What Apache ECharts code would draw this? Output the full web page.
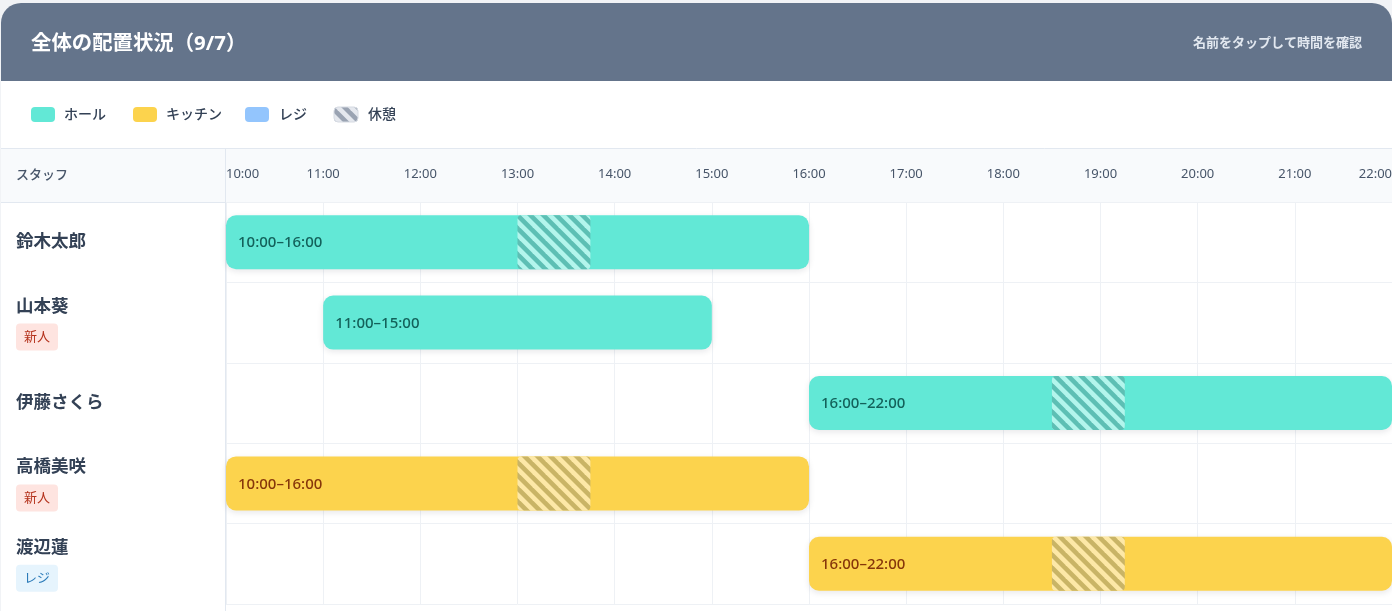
<!DOCTYPE html>
<html><head><meta charset="utf-8">
<script src="https://cdn.jsdelivr.net/npm/echarts@6/dist/echarts.min.js"></script>
<style>html,body{margin:0;padding:0;background:#f1f3f6}#c{width:1392px;height:611px}</style>
</head><body><div id="c"></div>
<script>
// ---- data ----
const staff = ['鈴木太郎', '山本葵', '伊藤さくら', '高橋美咲', '渡辺蓮'];
const badges = ['', '新人', '', '新人', 'レジ'];
const shiftStart = [10, 11, 16, 10, 16];
const shiftEnd = [16, 15, 22, 16, 22];
const shiftRole = ['hall', 'hall', 'hall', 'kitchen', 'kitchen'];
const breakStart = [13, null, 18.5, 13, 18.5];
const breakEnd = [13.75, null, 19.25, 13.75, 19.25];
const timeLabels = ['10:00','11:00','12:00','13:00','14:00','15:00','16:00','17:00','18:00','19:00','20:00','21:00','22:00'];
const legendNames = ['ホール', 'キッチン', 'レジ', '休憩'];
const titleText = '全体の配置状況（9/7）';
const hintText = '名前をタップして時間を確認';

// ---- styles ----
const FONT = "'Noto Sans', 'Noto Sans CJK JP', sans-serif";
const roleColor = { hall: '#62e8d6', kitchen: '#fcd34d', register: '#93c5fd' };
const roleText = { hall: '#13615a', kitchen: '#86360a' };
const stripeColors = {
  hall: ['#b3f5ec', '#5dbfb4'],
  kitchen: ['#fde8a7', '#c9b466'],
  gray: ['#e5e8ee', '#9aa3b2']
};

function makeStripe(light, dark) {
  const P = 13;
  const c = document.createElement('canvas');
  c.width = P; c.height = P;
  const g = c.getContext('2d');
  g.fillStyle = light; g.fillRect(0, 0, P, P);
  g.fillStyle = dark;
  for (let k = -2; k <= 1; k++) {
    g.beginPath();
    g.moveTo(k * P, 0);
    g.lineTo(k * P + P / 2, 0);
    g.lineTo(k * P + P / 2 + P, P);
    g.lineTo(k * P + P, P);
    g.closePath();
    g.fill();
  }
  return { image: c, repeat: 'repeat' };
}
const patterns = {
  hall: makeStripe(...stripeColors.hall),
  kitchen: makeStripe(...stripeColors.kitchen),
  gray: makeStripe(...stripeColors.gray)
};

function fmt(h) {
  const hh = Math.floor(h), mm = Math.round((h - hh) * 60);
  return hh + ':' + String(mm).padStart(2, '0');
}

const shiftData = staff.map((n, i) => [i, shiftStart[i], shiftEnd[i], shiftRole[i]]);
const breakData = [];
staff.forEach((n, i) => { if (breakStart[i] != null) breakData.push([i, breakStart[i], breakEnd[i], shiftRole[i]]); });

const BAR_H = 54;

function renderShift(params, api) {
  const d = shiftData[params.dataIndex];
  const p0 = api.coord([d[1], d[0]]);
  const p1 = api.coord([d[2], d[0]]);
  return {
    type: 'group',
    children: [{
      type: 'rect',
      shape: { x: p0[0], y: p0[1] - BAR_H / 2, width: p1[0] - p0[0], height: BAR_H, r: 10 },
      style: { fill: roleColor[d[3]], shadowBlur: 6, shadowOffsetY: 2, shadowColor: 'rgba(15,23,42,0.10)' }
    }, {
      type: 'text',
      z2: 10,
      style: {
        x: p0[0] + 12, y: p0[1] + 1,
        text: fmt(d[1]) + '–' + fmt(d[2]),
        fill: roleText[d[3]], font: '500 15px ' + FONT,
        verticalAlign: 'middle', align: 'left'
      }
    }]
  };
}

function renderBreak(params, api) {
  const d = breakData[params.dataIndex];
  const p0 = api.coord([d[1], d[0]]);
  const p1 = api.coord([d[2], d[0]]);
  return {
    type: 'rect',
    shape: { x: p0[0], y: p0[1] - BAR_H / 2, width: p1[0] - p0[0], height: BAR_H, r: 4 },
    style: { fill: patterns[d[3]] }
  };
}

// legend positions
const legendX = [31, 133, 245, 334];
const legendTextX = [64, 166, 279, 368];
const legendFill = [roleColor.hall, roleColor.kitchen, roleColor.register, patterns.gray];
const legendGraphics = [];
legendNames.forEach((nm, i) => {
  legendGraphics.push({
    type: 'rect', z: 5,
    shape: { x: legendX[i], y: 107, width: 24, height: 15, r: 4 },
    style: i === 3 ? { fill: legendFill[i], stroke: '#d5dae2', lineWidth: 1 } : { fill: legendFill[i] }
  });
  legendGraphics.push({
    type: 'text', z: 5,
    style: { x: legendTextX[i], y: 115, text: nm, fill: '#334155', font: '500 14px ' + FONT, verticalAlign: 'middle' }
  });
});

const badgeStyle = (fg, bg) => ({
  fontSize: 13, color: fg, backgroundColor: bg, padding: [0, 8], borderRadius: 4,
  height: 27, lineHeight: 27, fontFamily: FONT
});

const option = {
  animation: false,
  textStyle: { fontFamily: FONT },
  grid: { left: 226, right: 0, top: 202, bottom: 7, containLabel: false, outerBoundsMode: 'none' },
  xAxis: {
    type: 'value', position: 'top', min: 10, max: 22, interval: 1,
    axisLine: { show: false }, axisTick: { show: false },
    axisLabel: {
      formatter: v => timeLabels[Math.round(v - 10)],
      color: '#475569', fontSize: 13, fontFamily: FONT, margin: 21,
      alignMinLabel: 'left', alignMaxLabel: 'right'
    },
    splitLine: { show: true, lineStyle: { color: '#eef1f5', width: 1 } }
  },
  yAxis: {
    type: 'category', data: staff, inverse: true, boundaryGap: true,
    axisLine: { show: false }, axisTick: { show: false },
    splitLine: { show: true, lineStyle: { color: '#eef1f5', width: 1 } },
    axisLabel: {
      align: 'left', margin: 210,
      formatter: (v, i) => {
        const b = badges[i];
        if (!b) return '{name|' + v + '}';
        return '{name|' + v + '}\n{' + (b === '新人' ? 'nw' : 'rg') + '|' + b + '}\n{sp| }';
      },
      rich: {
        name: { fontSize: 17.5, fontWeight: 'bold', color: '#334155', lineHeight: 34, fontFamily: FONT },
        nw: badgeStyle('#b4321c', '#fee4e0'),
        rg: badgeStyle('#2a7ab8', '#e6f4fd'),
        sp: { fontSize: 1, lineHeight: 5, height: 5 }
      }
    }
  },
  graphic: [
    { type: 'rect', z: -20, shape: { x: 1, y: 3, width: 1391, height: 610, r: [20, 20, 0, 0] }, style: { fill: '#ffffff' } },
    { type: 'rect', z: -19, shape: { x: 1, y: 3, width: 1391, height: 78, r: [20, 20, 0, 0] }, style: { fill: '#64748b' } },
    { type: 'text', z: 5, style: { x: 31, y: 44, text: titleText, fill: '#ffffff', font: 'bold 20.4px ' + FONT, verticalAlign: 'middle' } },
    { type: 'text', z: 5, style: { x: 1362, y: 43, text: hintText, fill: '#e2e8f0', font: '600 13px ' + FONT, verticalAlign: 'middle', align: 'right' } },
    ...legendGraphics,
    { type: 'rect', z: -18, shape: { x: 1, y: 148, width: 1391, height: 54 }, style: { fill: '#f8fafc' } },
    { type: 'line', z: -17, shape: { x1: 1, y1: 148.5, x2: 1392, y2: 148.5 }, style: { stroke: '#e2e8f0', lineWidth: 1 } },
    { type: 'line', z: -17, shape: { x1: 1, y1: 202.5, x2: 1392, y2: 202.5 }, style: { stroke: '#e2e8f0', lineWidth: 1 } },
    { type: 'line', z: -17, shape: { x1: 225.5, y1: 148, x2: 225.5, y2: 611 }, style: { stroke: '#e2e8f0', lineWidth: 1 } },
    { type: 'text', z: 5, style: { x: 16, y: 175, text: 'スタッフ', fill: '#475569', font: '500 13px ' + FONT, verticalAlign: 'middle' } }
  ],
  series: [
    { type: 'custom', name: 'shift', renderItem: renderShift, data: shiftData, encode: { x: [1, 2], y: 0 }, z: 3 },
    { type: 'custom', name: 'break', renderItem: renderBreak, data: breakData, encode: { x: [1, 2], y: 0 }, z: 4 }
  ]
};

const chart = echarts.init(document.getElementById('c'), null, { renderer: 'canvas' });
chart.setOption(option);
</script>
</body></html>
